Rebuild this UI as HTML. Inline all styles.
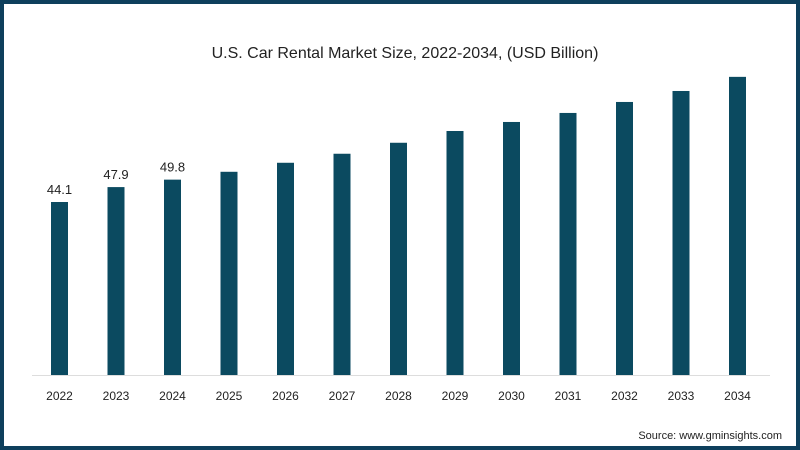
<!DOCTYPE html>
<html><head><meta charset="utf-8"><style>
body{margin:0;background:#fff;font-family:"Liberation Sans",sans-serif;}
#wrap{position:relative;width:800px;height:450px;box-sizing:border-box;border:4px solid #0e3f5c;background:#fff;overflow:hidden}
</style></head><body>
<div id="wrap">
<svg id="chart" width="792" height="442" style="position:absolute;left:0;top:0">
<text x="401" y="54" text-anchor="middle" font-size="16" fill="#222">U.S. Car Rental Market Size, 2022-2034, (USD Billion)</text>
<line x1="28" x2="766" y1="371.5" y2="371.5" stroke="#ddd" stroke-width="1"/>
<g id="bars"></g>
<text x="778" y="435" text-anchor="end" font-size="11" fill="#222">Source: www.gminsights.com</text>
</svg>
</div>
<script>
const categories=["2022","2023","2024","2025","2026","2027","2028","2029","2030","2031","2032","2033","2034"];
const values=[44.1,47.9,49.8,51.8,54.1,56.4,59.2,62.2,64.5,66.8,69.6,72.4,76.0];
const labels=["44.1","47.9","49.8","","","","","","","","","",""];
const ns="http://www.w3.org/2000/svg";
const g=document.getElementById("bars");
const base=371, scale=173/44.1;
const xPos=i=>55.5+i*56.5;
const yPos=v=>base-v*scale;
categories.forEach((c,i)=>{
 const r=document.createElementNS(ns,"rect");
 
 
 r.setAttribute("x",xPos(i)-8.5);r.setAttribute("width",17);
 r.setAttribute("y",yPos(values[i]));r.setAttribute("height",base-yPos(values[i]));
 r.setAttribute("fill","#0b4a60");g.appendChild(r);
 const t=document.createElementNS(ns,"text");
 
 
 t.setAttribute("x",xPos(i));t.setAttribute("y",396);t.setAttribute("text-anchor","middle");
 t.setAttribute("font-size","12");t.setAttribute("fill","#222");t.textContent=c;g.appendChild(t);
 if(labels[i]){
  const l=document.createElementNS(ns,"text");
  
  
  l.setAttribute("x",xPos(i));l.setAttribute("y",yPos(values[i])-8);l.setAttribute("text-anchor","middle");
  l.setAttribute("font-size","13");l.setAttribute("fill","#222");l.textContent=labels[i];g.appendChild(l);
 }
});
</script>
</body></html>
